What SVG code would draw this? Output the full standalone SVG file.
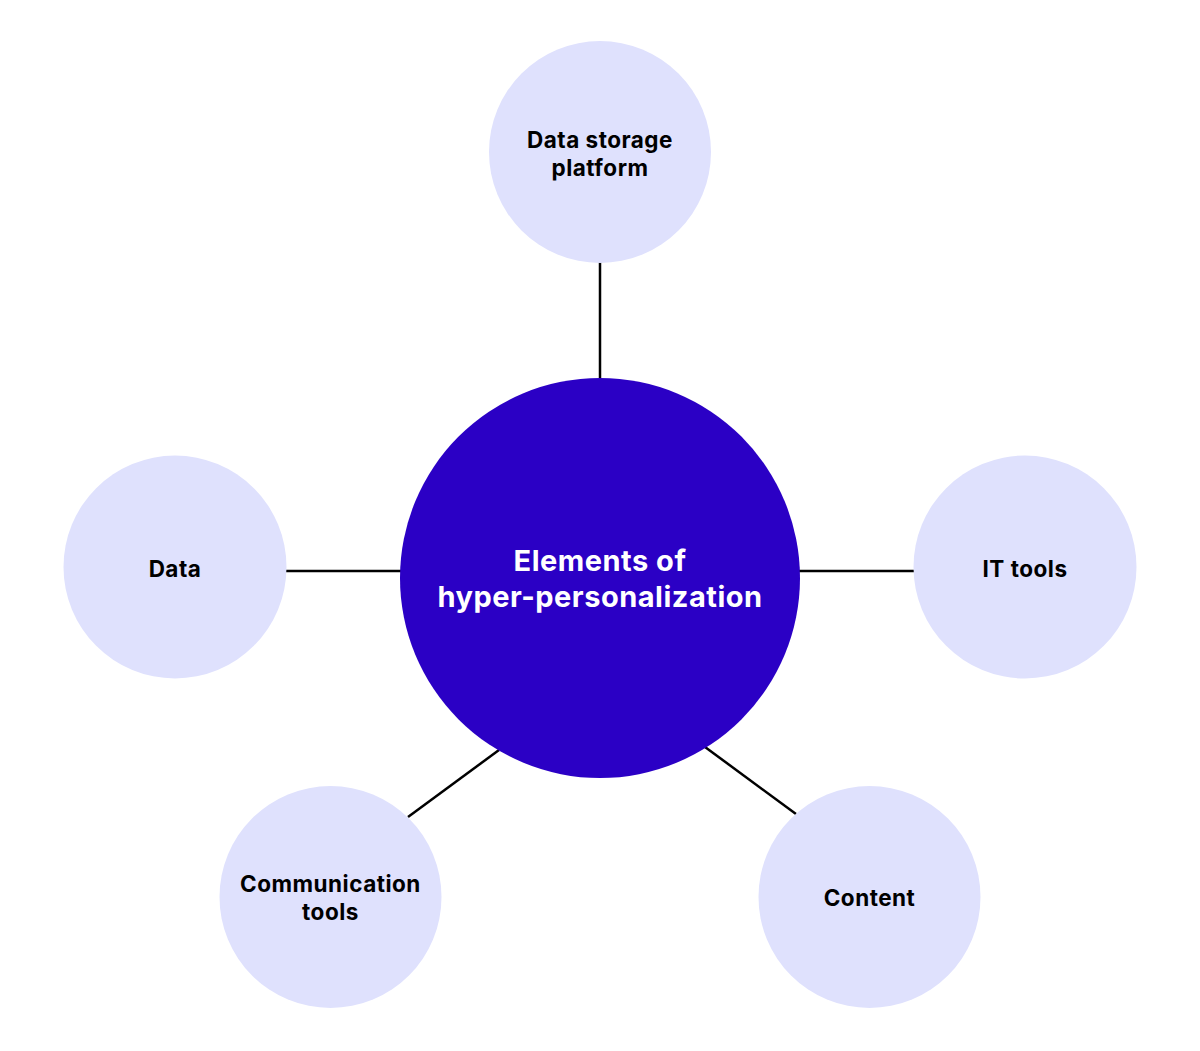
<svg xmlns="http://www.w3.org/2000/svg" width="1200" height="1051" viewBox="0 0 1200 1051">
<style>
.sat{fill:#DFE1FD}
.hub{fill:#2B00C5}
.lbl{font-family:Inter,"Liberation Sans",sans-serif;font-weight:700;font-size:22.5px;letter-spacing:0.5px;fill:#000;text-anchor:middle}
.hl{font-family:Inter,"Liberation Sans",sans-serif;font-weight:700;font-size:29px;letter-spacing:0.5px;fill:#fff;text-anchor:middle}
.con{stroke:#000;stroke-width:2.5;fill:none}
</style>
<rect width="1200" height="1051" fill="#fff"/>
<g id="connectors">
<line class="con" x1="600" y1="262" x2="600" y2="378"/>
<line class="con" x1="286" y1="571" x2="401" y2="571"/>
<line class="con" x1="799" y1="571" x2="914" y2="571"/>
<line class="con" x1="499" y1="750" x2="408" y2="817"/>
<line class="con" x1="705" y1="747" x2="796" y2="814"/>
</g>
<g id="hub">
<circle class="hub" cx="600" cy="578" r="200"/>
<text class="hl" x="600" y="571">Elements of</text>
<text class="hl" x="600" y="607">hyper-personalization</text>
</g>
<g id="data-storage">
<circle class="sat" cx="600" cy="152" r="111"/>
<text class="lbl" x="600" y="148">Data storage</text>
<text class="lbl" x="600" y="176">platform</text>
</g>
<g id="data">
<circle class="sat" cx="175" cy="567" r="111.5"/>
<text class="lbl" x="175" y="577">Data</text>
</g>
<g id="it-tools">
<circle class="sat" cx="1025" cy="567" r="111.5"/>
<text class="lbl" x="1025" y="577">IT tools</text>
</g>
<g id="communication-tools">
<circle class="sat" cx="330.5" cy="897" r="111"/>
<text class="lbl" x="330.5" y="892">Communication</text>
<text class="lbl" x="330.5" y="920">tools</text>
</g>
<g id="content">
<circle class="sat" cx="869.5" cy="897" r="111"/>
<text class="lbl" x="869.5" y="906">Content</text>
</g>
</svg>
